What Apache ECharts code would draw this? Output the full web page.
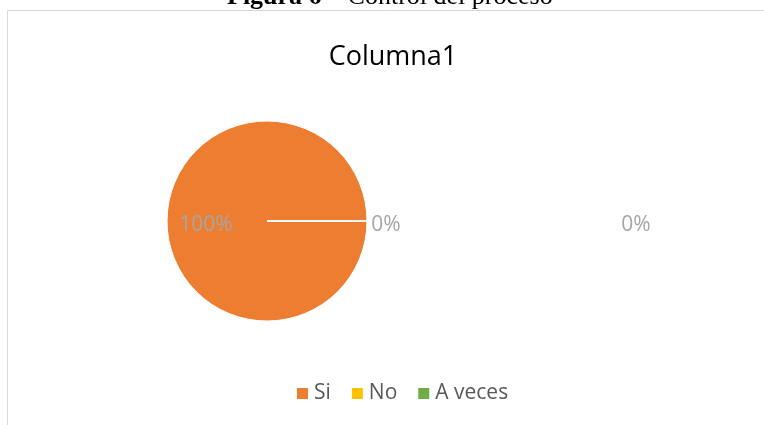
<!DOCTYPE html>
<html>
<head>
<meta charset="utf-8">
<script src="https://cdn.jsdelivr.net/npm/echarts@6/dist/echarts.min.js"></script>
<style>html,body{margin:0;padding:0;background:#fff;}#c{width:764px;height:425px;}</style>
</head>
<body>
<div id="c"></div>
<script>
const categories = ['Si', 'No', 'A veces'];
const values = [100, 0, 0];
const colors = ['#ED7D31', '#FFC000', '#70AD47'];
const chartTitle = 'Columna1';
const captionBold = 'Figura 6';
const captionRest = ' – Control del proceso';

const chart = echarts.init(document.getElementById('c'), null, {renderer: 'canvas'});
const labelPos = [
  {x: 206, y: 225},
  {x: 386, y: 225},
  {x: 636, y: 225}
];
chart.setOption({
  animation: false,
  backgroundColor: '#fff',
  color: colors,
  graphic: [
    {type: 'rect', shape: {x: 7.5, y: 10.5, width: 800, height: 500}, style: {fill: 'none', stroke: '#D9D9D9', lineWidth: 1}, z: -1},
    {type: 'text', left: 227, top: -16, style: {
      rich: {b: {fontFamily: 'Liberation Serif', fontWeight: 'bold', fontSize: 26, fill: '#000'},
             n: {fontFamily: 'Liberation Serif', fontSize: 26, fill: '#000'}},
      text: '{b|' + captionBold + '}{n|' + captionRest + '}'
    }}
  ],
  title: {
    text: chartTitle, left: 388, top: 39, textAlign: 'center',
    textStyle: {fontFamily: 'Open Sans', fontWeight: 'normal', fontSize: 27, color: '#000'}
  },
  legend: {
    top: 378, left: 290, icon: 'rect', itemWidth: 13, itemHeight: 13, itemGap: 19,
    textStyle: {fontFamily: 'Open Sans', fontSize: 21, color: '#595959'},
    data: categories
  },
  series: [{
    type: 'pie',
    center: [267, 221],
    radius: [0, 100],
    startAngle: 0,
    clockwise: true,
    stillShowZeroSum: true,
    minAngle: 0,
    avoidLabelOverlap: false,
    itemStyle: {borderColor: '#fff', borderWidth: 1},
    label: {show: true, formatter: '{d}%', fontFamily: 'Open Sans', fontSize: 21, color: '#A6A6A6'},
    labelLine: {show: false},
    labelLayout: function (p) { return {x: labelPos[p.dataIndex].x, y: labelPos[p.dataIndex].y, align: 'center', verticalAlign: 'middle'}; },
    emphasis: {disabled: true},
    data: categories.map((c, i) => ({name: c, value: values[i]}))
  }]
});
</script>
</body>
</html>
